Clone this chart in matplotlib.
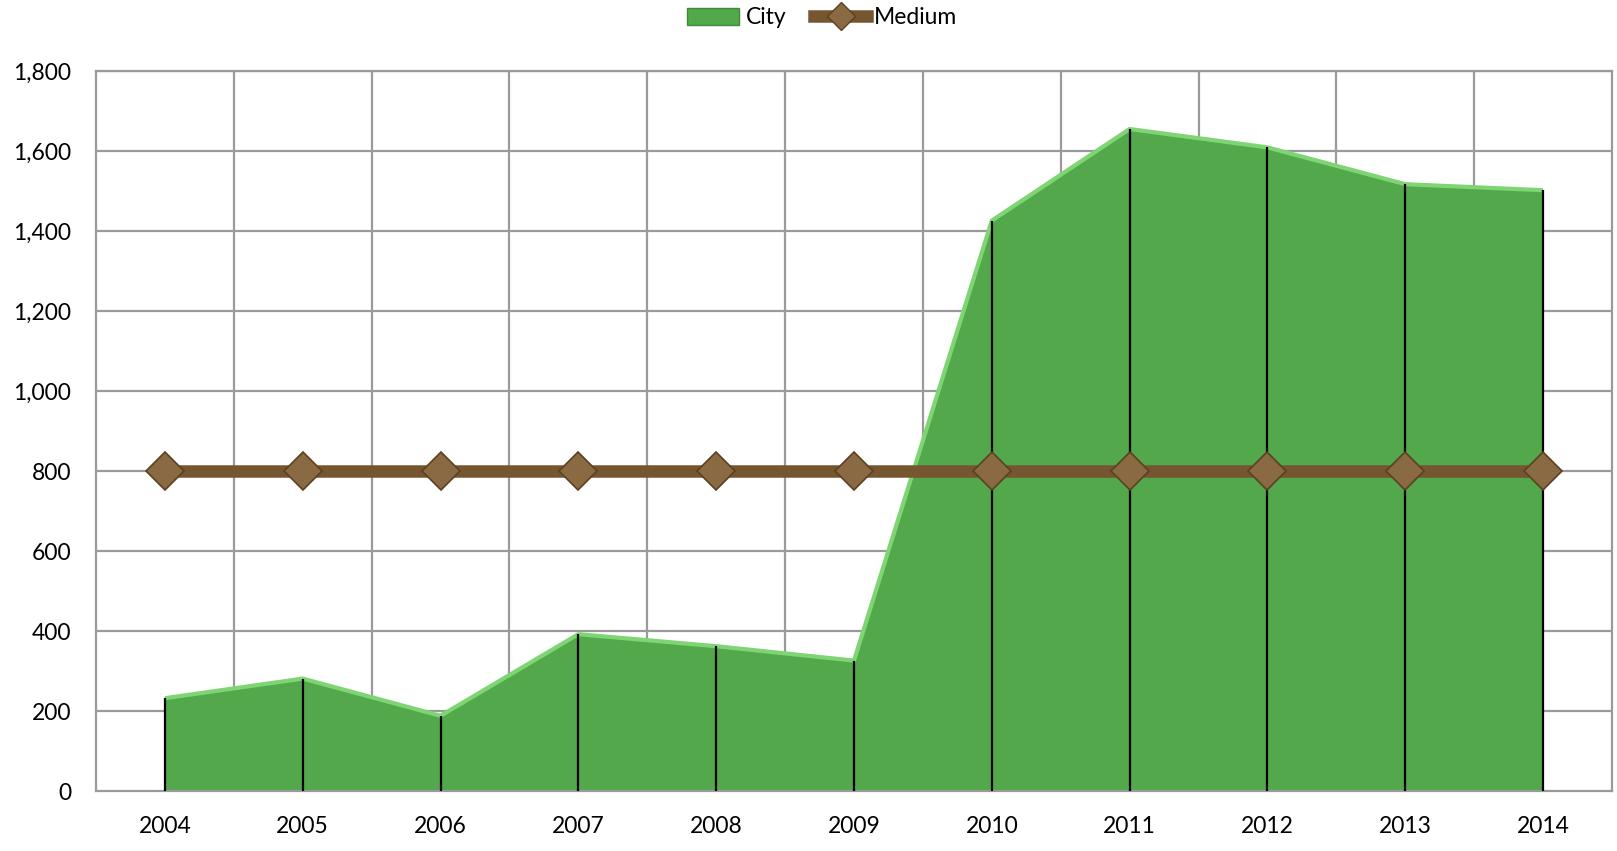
import matplotlib
matplotlib.use("Agg")
import matplotlib.pyplot as plt
from matplotlib.patches import Patch
from matplotlib.lines import Line2D
import numpy as np

years = ["2004", "2005", "2006", "2007", "2008", "2009",
         "2010", "2011", "2012", "2013", "2014"]
city = [232, 281, 188, 392, 362, 326, 1426, 1655, 1609, 1517, 1502]
medium = [800, 800, 800, 800, 800, 800, 800, 800, 800, 800, 800]
yticks = [0, 200, 400, 600, 800, 1000, 1200, 1400, 1600, 1800]

plt.rcParams["font.family"] = ["Lato", "DejaVu Sans"]

fig = plt.figure(figsize=(16.17, 8.51), dpi=100)
ax = fig.add_axes([96 / 1617, 1 - 791 / 851, 1516 / 1617, 720 / 851])

x = np.arange(len(years))
grid_c = "#9a9a9a"

# grid: horizontal at ticks, vertical at category boundaries
for yv in yticks[1:]:
    ax.axhline(yv, color=grid_c, lw=1.6, zorder=0)
for xv in np.arange(0.5, len(years) - 1, 1.0):
    ax.axvline(xv, color=grid_c, lw=1.6, zorder=0)

# area
ax.fill_between(x, 0, city, color="#52a84a", zorder=2, lw=0)
ax.plot(x, city, color="#7fd474", lw=3, zorder=3, solid_capstyle="butt")
ax.vlines(x, 0, city, color="black", lw=1.6, zorder=4)

# medium line
ax.plot(x, medium, color="#765531", lw=9, zorder=5, solid_capstyle="round")
ax.plot(x, medium, ls="none", marker="D", ms=19, mfc="#8a6a43",
        mec="#5c4020", mew=1.2, zorder=6)

ax.set_xlim(-0.5, len(years) - 0.5)
ax.set_ylim(0, 1800)
ax.set_xticks(x)
ax.set_xticklabels(years)
ax.set_yticks(yticks)
ax.set_yticklabels([f"{v:,}" for v in yticks])
ax.tick_params(length=0, labelsize=16.5, colors="black")
ax.tick_params(axis="x", pad=18)
ax.tick_params(axis="y", pad=18)
for s in ax.spines.values():
    s.set_color(grid_c)
    s.set_linewidth(1.6)

handles = [
    Patch(facecolor="#52a84a", edgecolor="#3f8c38", label="City"),
    Line2D([0], [0], color="#765531", lw=9, marker="D", ms=14,
           mfc="#8a6a43", mec="#5c4020", label="Medium"),
]
fig.legend(handles=handles, loc="center", bbox_to_anchor=(822 / 1617, 1 - 18 / 851),
           ncol=2, frameon=False, fontsize=16.5, handlelength=2.3,
           handletextpad=0.3, columnspacing=1.2)

fig.savefig("out.png", dpi=100)
